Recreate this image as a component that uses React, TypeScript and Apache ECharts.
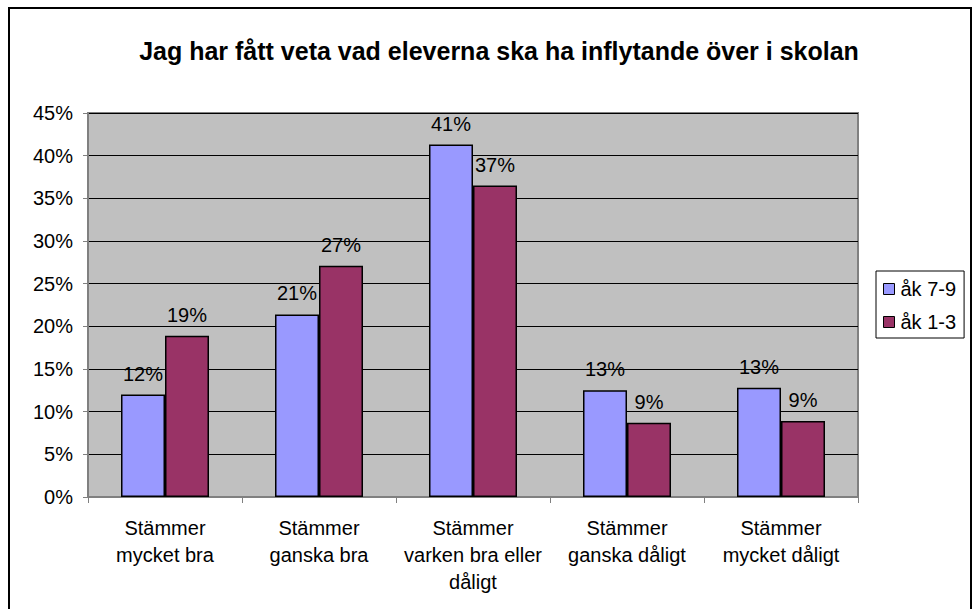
import React, { useEffect, useRef } from "react";
import * as echarts from "echarts";

const titleText = "Jag har fått veta vad eleverna ska ha inflytande över i skolan";
const categories = [
  "Stämmer\nmycket bra",
  "Stämmer\nganska bra",
  "Stämmer\nvarken bra eller\ndåligt",
  "Stämmer\nganska dåligt",
  "Stämmer\nmycket dåligt",
];
const seriesNames = ["åk 7-9", "åk 1-3"];
const ak79 = [0.12, 0.214, 0.413, 0.125, 0.128];
const ak13 = [0.189, 0.271, 0.365, 0.087, 0.089];
const yTicks = { min: 0, max: 0.45, interval: 0.05 };

const FONT = "'Liberation Sans', Arial, sans-serif";

export default function App() {
  const ref = useRef<HTMLDivElement>(null);
  useEffect(() => {
    if (!ref.current) return;
    const chart = echarts.init(ref.current, undefined, { renderer: "svg" });
    const pct = (v: number) => Math.round(v * 100) + "%";
    const labelCfg = {
      show: true,
      position: "top" as const,
      distance: 11,
      color: "#000",
      fontSize: 20,
      fontFamily: FONT,
      formatter: (p: any) => pct(p.value),
    };
    chart.setOption({
      animation: false,
      backgroundColor: "#fff",
      textStyle: { fontFamily: FONT },
      title: {
        text: titleText,
        left: 494,
        top: 33,
        textAlign: "center",
        textStyle: { fontSize: 25, fontWeight: "bold", color: "#000", fontFamily: FONT },
      },
      graphic: [
        {
          type: "rect",
          shape: { x: 9, y: 8, width: 962, height: 640 },
          style: { fill: "none", stroke: "#000", lineWidth: 2 },
          silent: true,
          z: 100,
        },
      ],
      legend: {
        orient: "vertical",
        left: 876,
        top: 271,
        data: seriesNames,
        itemWidth: 11,
        itemHeight: 11,
        itemGap: 13,
        padding: [8, 8, 6, 7],
        borderColor: "#000",
        borderWidth: 1,
        backgroundColor: "#fff",
        icon: "rect",
        itemStyle: { borderColor: "#000", borderWidth: 1 },
        textStyle: { fontSize: 20, color: "#000", fontFamily: FONT, padding: [0, 0, 0, 1] },
      },
      grid: {
        left: 88,
        top: 113,
        right: 118,
        bottom: 112,
        show: true,
        backgroundColor: "#C0C0C0",
        borderColor: "#808080",
        borderWidth: 2,
        containLabel: false,
      },
      xAxis: {
        type: "category",
        data: categories,
        axisLine: { show: true, lineStyle: { color: "#808080", width: 2 } },
        axisTick: { show: true, length: 6, lineStyle: { color: "#808080", width: 1 } },
        axisLabel: {
          interval: 0,
          color: "#000",
          fontSize: 20,
          lineHeight: 27,
          margin: 17,
          fontFamily: FONT,
        },
      },
      yAxis: {
        type: "value",
        min: yTicks.min,
        max: yTicks.max,
        interval: yTicks.interval,
        axisLine: { show: true, lineStyle: { color: "#808080", width: 2 } },
        axisTick: { show: true, length: 5, lineStyle: { color: "#808080", width: 1 } },
        splitLine: { show: true, lineStyle: { color: "#000", width: 1 } },
        axisLabel: {
          color: "#000",
          fontSize: 20,
          margin: 15,
          fontFamily: FONT,
          formatter: (v: number) => pct(v),
        },
      },
      series: [
        {
          name: seriesNames[0],
          type: "bar",
          data: ak79,
          barWidth: 44,
          barGap: "0%",
          itemStyle: { color: "#9999FF", borderColor: "#000", borderWidth: 1.5 },
          label: labelCfg,
        },
        {
          name: seriesNames[1],
          type: "bar",
          data: ak13,
          barWidth: 44,
          barGap: "0%",
          itemStyle: { color: "#993366", borderColor: "#000", borderWidth: 1.5 },
          label: labelCfg,
        },
      ],
    });
    return () => chart.dispose();
  }, []);
  return (
    <div
      ref={ref}
      style={{ position: "fixed", left: 0, top: 0, width: 976, height: 609 }}
    />
  );
}
